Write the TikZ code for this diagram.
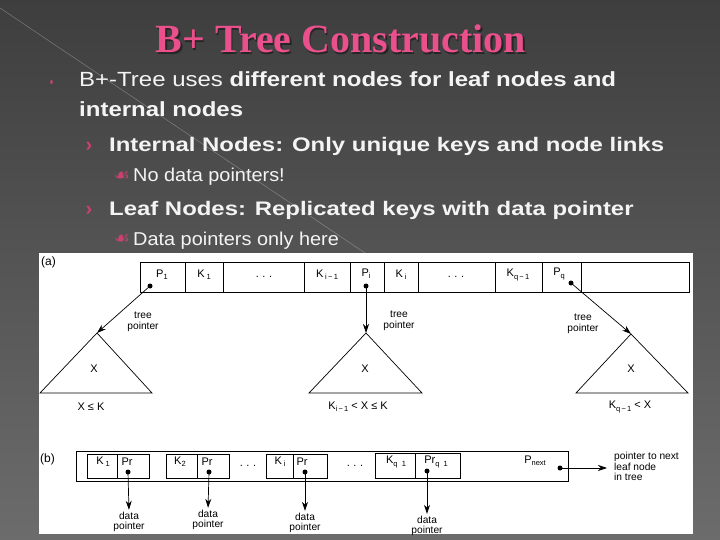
\documentclass[tikz,border=0pt]{standalone}
\usepackage{fontspec}
\setmainfont{Liberation Sans}
\newfontfamily\tfont{Liberation Serif}
\newfontfamily\symfont{DejaVu Sans}
\usetikzlibrary{arrows.meta}
\definecolor{bgtop}{HTML}{3E3E3E}
\definecolor{bgbot}{HTML}{6C6C6C}
\definecolor{pinkt}{HTML}{E9508C}
\definecolor{bulpink}{HTML}{C8426F}
\definecolor{txtw}{HTML}{F4F4F4}
\newcommand\sbs[1]{\raisebox{-2.2pt}{\fontsize{7.5}{8}\selectfont #1}}
\tikzset{
  titlestyle/.style={font=\tfont\bfseries\fontsize{40}{42}\selectfont, inner sep=0pt, anchor=base},
  lvlone/.style={font=\fontsize{20.5}{24}\selectfont, text=txtw, inner sep=0pt, anchor=base west},
  lvltwo/.style={font=\bfseries\fontsize{19.6}{24}\selectfont, text=txtw, inner sep=0pt, anchor=base west},
  lvlthree/.style={font=\fontsize{18.6}{22}\selectfont, text=txtw, inner sep=0pt, anchor=base west},
  chev/.style={font=\bfseries\fontsize{20}{24}\selectfont, text=bulpink, inner sep=0pt, anchor=base},
  curl/.style={font=\symfont\fontsize{18}{19}\selectfont, text=bulpink, inner sep=0pt},
  dg/.style={font=\fontsize{11}{12}\selectfont, inner sep=0pt},
  sm/.style={font=\fontsize{10.2}{10.5}\selectfont, inner sep=0pt, align=center},
  dotn/.style={circle, fill=black, inner sep=0pt, minimum size=5pt},
  ptr/.style={-{Stealth[length=9pt,width=6pt]}, line width=0.7pt},
  ln/.style={line width=0.7pt},
}
\begin{document}
\begin{tikzpicture}[x=1pt,y=-1pt]
\useasboundingbox (0,0) rectangle (720,540);
\shade[top color=bgtop, bottom color=bgbot] (0,0) rectangle (720,540);
\draw[white, opacity=.3, line width=.5pt] (0,8) -- (365,253);

% title
\node[titlestyle, text=black!85] at (342.3,54.3) {B+ Tree Construction};
\node[titlestyle, text=pinkt] (title) at (341,53) {B+ Tree Construction};

% bullets
\fill[bulpink] (51.5,82) ellipse (1.3pt and 2pt);
\node[lvlone] (l1) at (79,87) {\scalebox{1.17}[1]{B+-Tree uses \textbf{different nodes for leaf nodes and}}};
\node[lvlone] (l2) at (79,117) {\scalebox{1.17}[1]{\textbf{internal nodes}}};
\node[chev] (c1) at (89,151.5) {›};
\node[lvltwo] (l3) at (109,151.7) {\scalebox{1.22}[1]{Internal Nodes: Only unique keys and node links}};
\node[curl] (u1) at (122,176) {☙};
\node[lvlthree] (l4) at (133,181.7) {\scalebox{1.07}[1]{No data pointers!}};
\node[chev] (c2) at (89,215) {›};
\node[lvltwo] (l5) at (109,215) {\scalebox{1.22}[1]{Leaf Nodes: Replicated keys with data pointer}};
\node[curl] (u2) at (122,239) {☙};
\node[lvlthree] (l6) at (133,245) {\scalebox{1.07}[1]{Data pointers only here}};

% panel
\fill[white] (39,253) rectangle (693,534);
\node[font=\fontsize{12}{13}\selectfont, inner sep=0pt, anchor=west] (la) at (41,262) {(a)};
\node[font=\fontsize{12}{13}\selectfont, inner sep=0pt, anchor=west] (lb) at (40,459) {(b)};

% (a) internal node
\draw[ln] (140,262) rectangle (689,292);
\foreach \x in {185,223,304,350,384,418,495,542,581} \draw[ln] (\x,262) -- (\x,292);
\node[dg] (tp1) at (162,275) {P\sbs{1}};
\node[dg] (tk1) at (204,275) {K\,\sbs{1}};
\node[dg] (te1) at (264,277) {.\,\,.\,\,.};
\node[dg] (tki) at (327,275) {K\,\sbs{i\,−\,1}};
\node[dg] (tpi) at (366,274) {P\sbs{i}};
\node[dg] (tkk) at (401,275) {K\,\sbs{i}};
\node[dg] (te2) at (456,277) {.\,\,.\,\,.};
\node[dg] (tkq) at (518,275) {K\sbs{q\,−\,1}};
\node[dg] (tpq) at (559,274) {P\sbs{q}};
\node[dotn] (d1) at (150,286) {};
\node[dotn] (d2) at (366,286) {};
\node[dotn] (d3) at (571,283) {};

% subtrees
\coordinate (a1) at (97,333);
\coordinate (a2) at (366,333);
\coordinate (a3) at (631,334);
\draw[ln] (a1) -- (40,393) -- (152,393) -- cycle;
\draw[ln] (a2) -- (309,393) -- (422,393) -- cycle;
\draw[ln] (a3) -- (576,393) -- (688,393) -- cycle;
\draw[ptr] (d1.center) -- (a1);
\draw[ptr] (d2.center) -- (a2);
\draw[ptr] (d3.center) -- (a3);
\node[sm] (tl1) at (143,322) {tree\\pointer};
\node[sm] (tl2) at (399,321) {tree\\pointer};
\node[sm] (tl3) at (583,324) {tree\\pointer};
\node[dg] (x1) at (94,369) {X};
\node[dg] (x2) at (365,369) {X};
\node[dg] (x3) at (631,369) {X};
\node[dg] (r1) at (91,407) {X ≤ K};
\node[dg] (r2) at (358,407) {K\sbs{i\,−\,1} < X ≤ K};
\node[dg] (r3) at (630,407) {K\sbs{q\,−\,1} < X};

% (b) leaf node
\draw[ln] (76,451) rectangle (568,481);
\draw[ln] (87,454) rectangle (149,478); \draw[ln] (117,454) -- (117,478);
\draw[ln] (166,454) rectangle (229,478); \draw[ln] (197,454) -- (197,478);
\draw[ln] (266,454) rectangle (327,478); \draw[ln] (293,454) -- (293,478);
\draw[ln] (375,453) rectangle (460,478); \draw[ln] (415,453) -- (415,478);
\node[dg] (bk1) at (103,462) {K\,\sbs{1}};
\node[dg] (bp1) at (127,462) {Pr};
\node[dg] (bk2) at (180,462) {K\sbs{2}};
\node[dg] (bp2) at (207,462) {Pr};
\node[dg] (be1) at (248,466) {.\,\,.\,\,.};
\node[dg] (bki) at (280,462) {K\,\sbs{i}};
\node[dg] (bpi) at (302,462) {Pr};
\node[dg] (be2) at (355,466) {.\,\,.\,\,.};
\node[dg] (bkq) at (396,462) {K\sbs{q\;\;1}};
\node[dg] (bpq) at (436,462) {Pr\sbs{q\;\;1}};
\node[dg] (bpn) at (535,461) {P\sbs{next}};
\node[dotn] (e1) at (128,472) {};
\node[dotn] (e2) at (209,472) {};
\node[dotn] (e3) at (305,472) {};
\node[dotn] (e4) at (427,471) {};
\node[dotn] (en) at (560,468) {};
\node[sm] (dl1) at (129,522) {data\\pointer};
\node[sm] (dl2) at (208,520) {data\\pointer};
\node[sm] (dl3) at (305,523) {data\\pointer};
\node[sm] (dl4) at (427,526) {data\\pointer};
\draw[ptr, shorten >=2pt] (e1.center) -- (dl1.north);
\draw[ptr, shorten >=2pt] (e2.center) -- (dl2.north);
\draw[ptr, shorten >=2pt] (e3.center) -- (dl3.north);
\draw[ptr, shorten >=2pt] (e4.center) -- (dl4.north);
\node[sm, align=left, anchor=north west] (nl) at (614,452) {pointer to next\\leaf node\\in tree};
\coordinate (nt) at (607,468);
\draw[ptr] (en.center) -- (nt);
\end{tikzpicture}
\end{document}
